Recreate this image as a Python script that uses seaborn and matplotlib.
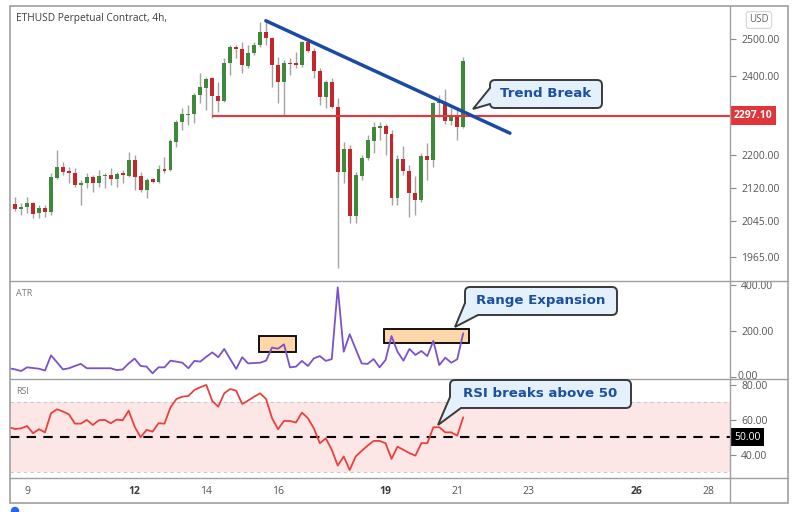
import numpy as np
import pandas as pd
import matplotlib
matplotlib.use("Agg")
import matplotlib.pyplot as plt
import matplotlib.transforms as mtransforms
from matplotlib.patches import FancyBboxPatch, Polygon, Rectangle, Circle
from matplotlib.transforms import Bbox
from matplotlib.ticker import NullLocator, NullFormatter
import seaborn as sns

# ---------------- data ----------------
first_bar = "2021-04-08 12:00"   # first indicator bar; candles start one bar later
bar_freq = "4h"

opens = [2084, 2072, 2077, 2086, 2063, 2075, 2065, 2144, 2170, 2161,
         2156, 2128, 2132, 2146, 2132, 2149, 2151, 2141, 2156, 2149,
         2187, 2149, 2116, 2141, 2134, 2165, 2163, 2231, 2281, 2299,
         2302, 2350, 2368, 2394, 2347, 2334, 2435, 2479, 2473, 2427,
         2462, 2484, 2520, 2503, 2430, 2384, 2435, 2435, 2430, 2492,
         2468, 2414, 2345, 2384, 2319, 2158, 2214, 2056, 2149, 2192,
         2234, 2266, 2271, 2251, 2098, 2190, 2161, 2109, 2093, 2197,
         2187, 2329, 2332, 2284, 2296, 2269]
highs = [2100, 2086, 2100, 2088, 2082, 2082, 2156, 2211, 2182, 2170,
         2168, 2139, 2156, 2151, 2163, 2156, 2168, 2158, 2163, 2206,
         2199, 2158, 2144, 2144, 2175, 2194, 2239, 2286, 2317, 2324,
         2355, 2408, 2397, 2397, 2384, 2448, 2484, 2484, 2492, 2484,
         2492, 2547, 2553, 2506, 2451, 2443, 2448, 2465, 2495, 2500,
         2476, 2422, 2389, 2394, 2342, 2231, 2224, 2158, 2199, 2248,
         2281, 2281, 2276, 2261, 2199, 2221, 2175, 2149, 2204, 2229,
         2332, 2350, 2366, 2317, 2311, 2451]
lows = [2068, 2058, 2063, 2052, 2052, 2054, 2058, 2141, 2151, 2132,
        2123, 2081, 2121, 2111, 2123, 2121, 2128, 2123, 2132, 2146,
        2116, 2111, 2098, 2132, 2132, 2156, 2161, 2219, 2261, 2273,
        2279, 2329, 2311, 2291, 2306, 2332, 2403, 2448, 2408, 2422,
        2457, 2479, 2484, 2371, 2329, 2299, 2403, 2422, 2424, 2465,
        2394, 2324, 2316, 2316, 1941, 2132, 2040, 2040, 2139, 2187,
        2204, 2236, 2199, 2081, 2081, 2151, 2054, 2058, 2088, 2139,
        2170, 2294, 2276, 2273, 2236, 2266]
closes = [2072, 2077, 2086, 2061, 2075, 2065, 2146, 2170, 2158, 2156,
          2128, 2132, 2146, 2132, 2149, 2151, 2141, 2153, 2151, 2187,
          2146, 2116, 2139, 2134, 2165, 2161, 2234, 2281, 2302, 2302,
          2350, 2371, 2392, 2347, 2334, 2435, 2479, 2473, 2430, 2462,
          2484, 2520, 2503, 2430, 2384, 2435, 2432, 2430, 2492, 2468,
          2414, 2345, 2384, 2319, 2158, 2214, 2056, 2151, 2192, 2236,
          2269, 2271, 2251, 2098, 2190, 2161, 2109, 2093, 2197, 2187,
          2329, 2332, 2284, 2296, 2269, 2440]

atr_values = [38, 33, 26, 42, 39, 36, 28, 94, 64, 33,
              38, 48, 57, 38, 38, 38, 38, 38, 30, 33,
              59, 80, 48, 45, 16, 42, 42, 71, 67, 62,
              38, 70, 67, 88, 107, 86, 122, 78, 35, 86,
              59, 61, 62, 71, 128, 123, 142, 42, 45, 70,
              48, 81, 91, 70, 78, 390, 110, 186, 122, 59,
              57, 78, 42, 74, 178, 110, 71, 122, 96, 113,
              91, 157, 52, 84, 62, 77, 190]
rsi_values = [55.7, 54.7, 55.1, 56.4, 52.3, 54.6, 52.8, 63.7, 66.0, 64.7,
              63.1, 57.8, 57.8, 59.9, 57.0, 59.7, 59.9, 58.0, 60.1, 59.7,
              65.2, 56.1, 50.0, 54.2, 53.2, 58.0, 57.8, 67.1, 71.9, 73.2,
              73.6, 77.0, 78.6, 79.9, 70.7, 67.5, 75.1, 77.6, 76.6, 69.0,
              71.0, 73.2, 75.1, 71.9, 60.9, 54.6, 59.3, 59.3, 58.4, 64.1,
              60.9, 55.1, 46.6, 49.4, 42.8, 33.8, 39.0, 31.3, 39.0, 42.2,
              45.2, 47.9, 47.9, 46.6, 37.6, 44.6, 42.8, 40.9, 39.5, 46.6,
              46.6, 55.7, 55.7, 52.8, 52.8, 50.9, 61.4]

day_ticks = [9, 12, 14, 16, 19, 21, 23, 26, 28]
week_start_days = [12, 19, 26]
price_ticks = [1965, 2045, 2120, 2200, 2400, 2500]
atr_ticks = [0, 200, 400]
rsi_ticks = [40, 60, 80]
support_price = 2297.10
support_from_day = 14.16
trend_days = [15.66, 22.47]
trend_prices = [2551, 2253]
rsi_mid = 50
rsi_band = [30, 70]

# ---------------- style ----------------
sns.set_theme(style="white")
plt.rcParams["font.family"] = ["Open Sans", "DejaVu Sans"]

GREEN = "#3f8a3a"
RED = "#c4262b"
WICK = "#a3a3a3"
FRAME = "#a0a0a0"
LABEL = "#555555"

W, H = 800, 512
fig = plt.figure(figsize=(W / 100, H / 100), dpi=100)
fig.patch.set_facecolor("white")


def frac(x0, y0, x1, y1):
    return [x0 / W, 1 - y1 / H, (x1 - x0) / W, (y1 - y0) / H]


axp = fig.add_axes(frac(10, 6, 730, 281))
axa = fig.add_axes(frac(10, 281, 730, 379), sharex=axp)
axr = fig.add_axes(frac(10, 379, 730, 478), sharex=axp)

times = pd.date_range(first_bar, periods=len(atr_values), freq=bar_freq)
xd = np.asarray(times.day + times.hour / 24.0, dtype=float)
candles = pd.DataFrame({"day": xd[1:], "open": opens, "high": highs,
                        "low": lows, "close": closes})
ind = pd.DataFrame({"day": xd, "atr": atr_values, "rsi": rsi_values})

# ---------------- price pane ----------------
axp.set_yscale("log")
up = candles["close"] >= candles["open"]
axp.vlines(candles["day"], candles["low"], candles["high"], color=WICK, lw=1.0, zorder=2)
axp.bar(candles["day"], (candles["close"] - candles["open"]).abs(),
        bottom=np.minimum(candles["open"], candles["close"]),
        width=0.11, color=np.where(up, GREEN, RED), linewidth=0, zorder=3)
axp.hlines(support_price, support_from_day, 40, color="#e8363b", lw=1.5, zorder=4)
sns.lineplot(x=trend_days, y=trend_prices, ax=axp, color="#1b4aa5", linewidth=2.5, zorder=5)
axp.set_ylim(1913.4, 2592.9)
axp.set_xlim(8.523, 28.61)
axp.set_yticks(price_ticks)
axp.set_yticklabels([f"{v:.2f}" for v in price_ticks])
axp.yaxis.set_minor_locator(NullLocator())
axp.yaxis.set_minor_formatter(NullFormatter())

# ---------------- ATR pane ----------------
sns.lineplot(data=ind, x="day", y="atr", ax=axa, color="#7b52c9", linewidth=1.3, zorder=3)
axa.set_ylim(-8.7, 417.4)
axa.set_yticks(atr_ticks)
axa.set_yticklabels(["", "200.00", "400.00"])

# ---------------- RSI pane ----------------
axr.axhspan(rsi_band[0], rsi_band[1], color="#fce6e6", zorder=0, lw=0)
for lv in rsi_band:
    axr.axhline(lv, color="#c8c8c8", lw=0.8, dashes=(3, 3), zorder=1)
axr.axhline(rsi_mid, color="black", lw=1.5, dashes=(4.5, 3.5), zorder=2)
sns.lineplot(data=ind, x="day", y="rsi", ax=axr, color="#e8413e", linewidth=1.3, zorder=3)
axr.set_ylim(26.7, 83.3)
axr.set_yticks(rsi_ticks)
axr.set_yticklabels([f"{v:.2f}" for v in rsi_ticks])

# ---------------- axes styling ----------------
for ax in (axp, axa, axr):
    ax.set_xlabel("")
    ax.set_ylabel("")
    ax.grid(False)
    for s in ax.spines.values():
        s.set_visible(False)
    ax.yaxis.tick_right()
    ax.tick_params(axis="y", which="major", right=True, left=False, length=4,
                   width=0.8, color="#8a8a8a", labelsize=7.5, labelcolor=LABEL, pad=4)
    ax.set_facecolor("white")

axp.tick_params(axis="x", bottom=False, labelbottom=False)
axa.tick_params(axis="x", bottom=False, labelbottom=False)
axr.set_xticks(day_ticks)
axr.set_xticklabels([str(d) for d in day_ticks])
axr.tick_params(axis="x", bottom=True, length=0, pad=6, labelsize=7.5, labelcolor=LABEL)
for lbl, d in zip(axr.get_xticklabels(), day_ticks):
    if d in week_start_days:
        lbl.set_fontweight("bold")
        lbl.set_color("#3a3a3a")

# right-scale label boxes
tp = mtransforms.blended_transform_factory(axp.transAxes, axp.transData)
axp.text(1.0 + 4 / 720, support_price, "2297.10", transform=tp, ha="left", va="center",
         fontsize=7.5, fontweight="bold", color="white", clip_on=False, zorder=20,
         bbox=dict(boxstyle="square,pad=0.35", fc="#e0353a", ec="none"))
tr = mtransforms.blended_transform_factory(axr.transAxes, axr.transData)
axr.text(1.0 + 4 / 720, rsi_mid, "50.00", transform=tr, ha="left", va="center",
         fontsize=7.5, color="white", clip_on=False, zorder=20,
         bbox=dict(boxstyle="square,pad=0.35", fc="black", ec="none"))
ta = mtransforms.blended_transform_factory(axa.transAxes, axa.transData)
zero_lbl = fig.text(1.0 + 8 / 720, 0, "0.00", transform=ta, ha="left", va="center",
                    fontsize=7.5, color=LABEL)
zero_lbl.set_clip_on(True)
zero_lbl.set_clip_box(Bbox.from_extents(730, H - 379, 788, H - 281))

# highlight boxes in ATR pane (below the line)
inv = axa.transData.inverted()


def px2data(px, py):
    return inv.transform((px, H - py))


for (bx0, by0, bx1, by1) in [(259, 336, 296, 352), (384, 329, 469, 343)]:
    (dx0, dy1) = px2data(bx0, by0)
    (dx1, dy0) = px2data(bx1, by1)
    axa.add_patch(Rectangle((dx0, dy0), dx1 - dx0, dy1 - dy0, fc="#fdd6aa",
                            ec="black", lw=1.3, zorder=1))

# ---------------- overlay: frame, titles, callouts ----------------
ov = fig.add_axes([0, 0, 1, 1], zorder=10)
ov.set_xlim(0, W)
ov.set_ylim(H, 0)
ov.axis("off")
ov.patch.set_alpha(0)

ov.add_patch(Rectangle((10, 6), 778, 497, fill=False, ec=FRAME, lw=1.2))
ov.plot([730, 730], [6, 503], color=FRAME, lw=1.0)
for yy in (281, 379, 478):
    ov.plot([10, 788], [yy, yy], color=FRAME, lw=1.0)

ov.text(16, 19, "ETHUSD Perpetual Contract, 4h,", ha="left", va="center",
        fontsize=7.3, color="#3c3c3c")
ov.text(16, 294, "ATR", ha="left", va="center", fontsize=6.5, color="#777777")
ov.text(16, 391, "RSI", ha="left", va="center", fontsize=6.5, color="#777777")
ov.text(759, 20, "USD", ha="center", va="center", fontsize=7, color="#666666",
        bbox=dict(boxstyle="round,pad=0.3,rounding_size=0.3", fc="white", ec="#d4d4d4", lw=0.8))
ov.add_patch(Circle((15, 511), 3.5, color="#2962ff"))


def callout(x0, y0, x1, y1, b1, b2, tip, inner, text):
    fc = "#e4f0fb"
    ec = "#3a3a3a"
    ov.add_patch(FancyBboxPatch((x0, y0), x1 - x0, y1 - y0,
                                boxstyle="round,pad=0,rounding_size=5",
                                fc=fc, ec=ec, lw=1.4, zorder=5))
    ov.add_patch(Polygon([b1, tip, b2, inner], closed=True, fc=fc, ec="none", zorder=6))
    ov.plot([b1[0], tip[0], b2[0]], [b1[1], tip[1], b2[1]], color=ec, lw=1.4,
            zorder=7, solid_joinstyle="miter")
    ov.text((x0 + x1) / 2, (y0 + y1) / 2 - 0.5, text, ha="center", va="center",
            fontsize=9.6, fontweight="bold", color="#1b4f9f", family="DejaVu Sans", zorder=8)


callout(490, 80, 602, 108, (490, 88), (490, 104), (473, 109), (497, 96), "Trend Break")
callout(465, 287, 617, 315, (465, 303), (478, 315), (455, 327), (473, 306), "Range Expansion")
callout(450, 380, 631, 408, (450, 397), (461, 408), (438, 425), (458, 399), "RSI breaks above 50")

fig.savefig("out.png", dpi=100)
